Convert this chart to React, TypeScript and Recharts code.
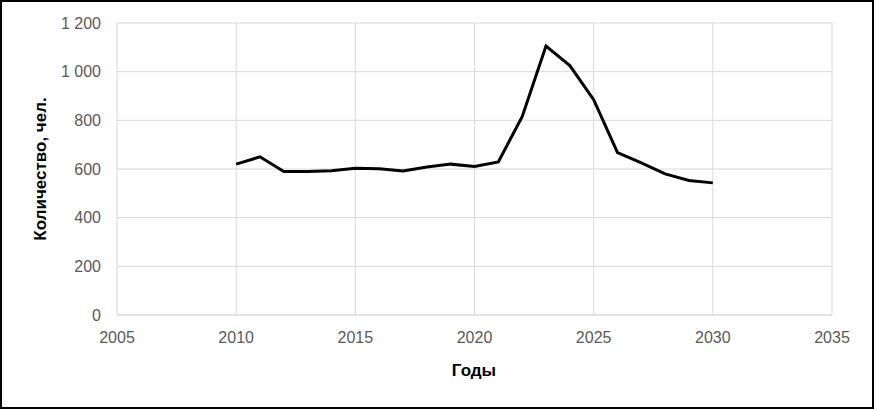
import { LineChart, Line, XAxis, YAxis, CartesianGrid } from 'recharts';

const years = [
  2010, 2011, 2012, 2013, 2014, 2015, 2016, 2017, 2018, 2019, 2020,
  2021, 2022, 2023, 2024, 2025, 2026, 2027, 2028, 2029, 2030,
];
const counts = [
  620, 650, 590, 590, 593, 603, 601, 592, 608, 620, 610,
  629, 815, 1105, 1025, 885, 667, 625, 580, 553, 543,
];
const xTicks = [2005, 2010, 2015, 2020, 2025, 2030, 2035];
const yTicks = [0, 200, 400, 600, 800, 1000, 1200];

const data = years.map((year, i) => ({ year, count: counts[i] }));

const FONT = '"Liberation Sans", Arial, sans-serif';

function formatThousands(v: number) {
  if (v < 1000) return String(v);
  return `${Math.floor(v / 1000)} ${String(v % 1000).padStart(3, '0')}`;
}

function YTitle() {
  return (
    <text
      x={40}
      y={169}
      transform="rotate(-90 40 169)"
      textAnchor="middle"
      dominantBaseline="central"
      fontFamily={FONT}
      fontSize={17}
      fontWeight="bold"
      fill="#000"
    >
      Количество, чел.
    </text>
  );
}

function XTitle() {
  return (
    <text
      x={474}
      y={370}
      textAnchor="middle"
      dominantBaseline="central"
      fontFamily={FONT}
      fontSize={17}
      fontWeight="bold"
      fill="#000"
    >
      Годы
    </text>
  );
}

export default function App() {
  const tick = { fontFamily: FONT, fontSize: 16, fill: '#595959' };
  return (
    <div
      style={{
        position: 'absolute',
        top: 0,
        left: 0,
        width: 874,
        height: 409,
        background: '#fff',
        border: '2px solid #000',
        boxSizing: 'border-box',
      }}
    >
      <div style={{ position: 'absolute', top: -2, left: -2 }}>
        <LineChart
          width={874}
          height={409}
          data={data}
          margin={{ top: 23, right: 42, left: 0, bottom: 34 }}
        >
          <CartesianGrid stroke="#d9d9d9" strokeWidth={1} />
          <XAxis
            dataKey="year"
            type="number"
            domain={[2005, 2035]}
            ticks={xTicks}
            interval={0}
            tick={tick}
            tickLine={false}
            tickSize={0}
            tickMargin={17}
            axisLine={{ stroke: '#d9d9d9' }}
            height={60}
            label={<XTitle />}
          />
          <YAxis
            type="number"
            domain={[0, 1200]}
            ticks={yTicks}
            interval={0}
            tick={tick}
            tickFormatter={formatThousands}
            tickLine={false}
            tickSize={0}
            tickMargin={16}
            axisLine={false}
            width={117}
            label={<YTitle />}
          />
          <Line
            type="linear"
            dataKey="count"
            stroke="#000"
            strokeWidth={3}
            dot={false}
            activeDot={false}
            isAnimationActive={false}
          />
        </LineChart>
      </div>
    </div>
  );
}
